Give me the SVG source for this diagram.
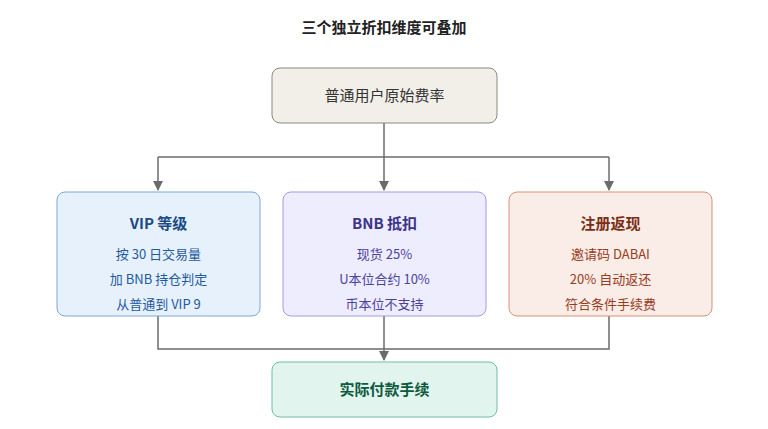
<svg xmlns="http://www.w3.org/2000/svg" width="768" height="429" viewBox="0 0 768 429">
<style>
text{font-family:"Noto Sans CJK SC","Noto Sans",sans-serif;text-anchor:middle}
.t{font-size:15px;font-weight:bold}
.s{font-size:13px}
.ln{fill:none;stroke:#6b6b6b;stroke-width:1.5}
</style>
<defs><marker id="a" viewBox="0 0 10 10" refX="9" refY="5" markerWidth="7" markerHeight="7" orient="auto"><path d="M0,0L10,5L0,10z" fill="#6b6b6b"/></marker></defs>
<rect width="768" height="429" fill="#fff"/>
<text x="384" y="33" class="t" fill="#222">三个独立折扣维度可叠加</text>
<g id="connectors">
<path class="ln" d="M384,123V157"/>
<path class="ln" d="M158,157H609"/>
<path class="ln" d="M158,157V190" marker-end="url(#a)"/>
<path class="ln" d="M384,157V190" marker-end="url(#a)"/>
<path class="ln" d="M609,157V190" marker-end="url(#a)"/>
<path class="ln" d="M158,316V349H609V316"/>
<path class="ln" d="M384,316V360" marker-end="url(#a)"/>
</g>
<g id="top"><rect x="272" y="68" width="225" height="55" rx="8" fill="#f1efe8" stroke="#8a887f"/><text x="384.5" y="101" font-size="15" fill="#333">普通用户原始费率</text></g>
<g id="vip"><rect x="57" y="192" width="203" height="124" rx="8" fill="#e6f1fb" stroke="#7aa8d8"/>
<text x="158.5" y="229" class="t" fill="#1b4a85">VIP 等级</text>
<text x="158.5" y="259" class="s" fill="#1f5a9e">按 30 日交易量</text>
<text x="158.5" y="284" class="s" fill="#1f5a9e">加 BNB 持仓判定</text>
<text x="158.5" y="309" class="s" fill="#1f5a9e">从普通到 VIP 9</text></g>
<g id="bnb"><rect x="283" y="192" width="203" height="124" rx="8" fill="#eeedfd" stroke="#a19be2"/>
<text x="384.5" y="229" class="t" fill="#3c3489">BNB 抵扣</text>
<text x="384.5" y="259" class="s" fill="#4a42a0">现货 25%</text>
<text x="384.5" y="284" class="s" fill="#4a42a0">U本位合约 10%</text>
<text x="384.5" y="309" class="s" fill="#4a42a0">币本位不支持</text></g>
<g id="reg"><rect x="509" y="192" width="203" height="124" rx="8" fill="#faece7" stroke="#d8917a"/>
<text x="610.5" y="229" class="t" fill="#7a2e16">注册返现</text>
<text x="610.5" y="259" class="s" fill="#993c1d">邀请码 DABAI</text>
<text x="610.5" y="284" class="s" fill="#993c1d">20% 自动返还</text>
<text x="610.5" y="309" class="s" fill="#993c1d">符合条件手续费</text></g>
<g id="bottom"><rect x="272" y="362" width="225" height="55" rx="8" fill="#e1f5ee" stroke="#6cc09a"/><text x="384.5" y="395" class="t" fill="#0f5a3e">实际付款手续</text></g>
</svg>
